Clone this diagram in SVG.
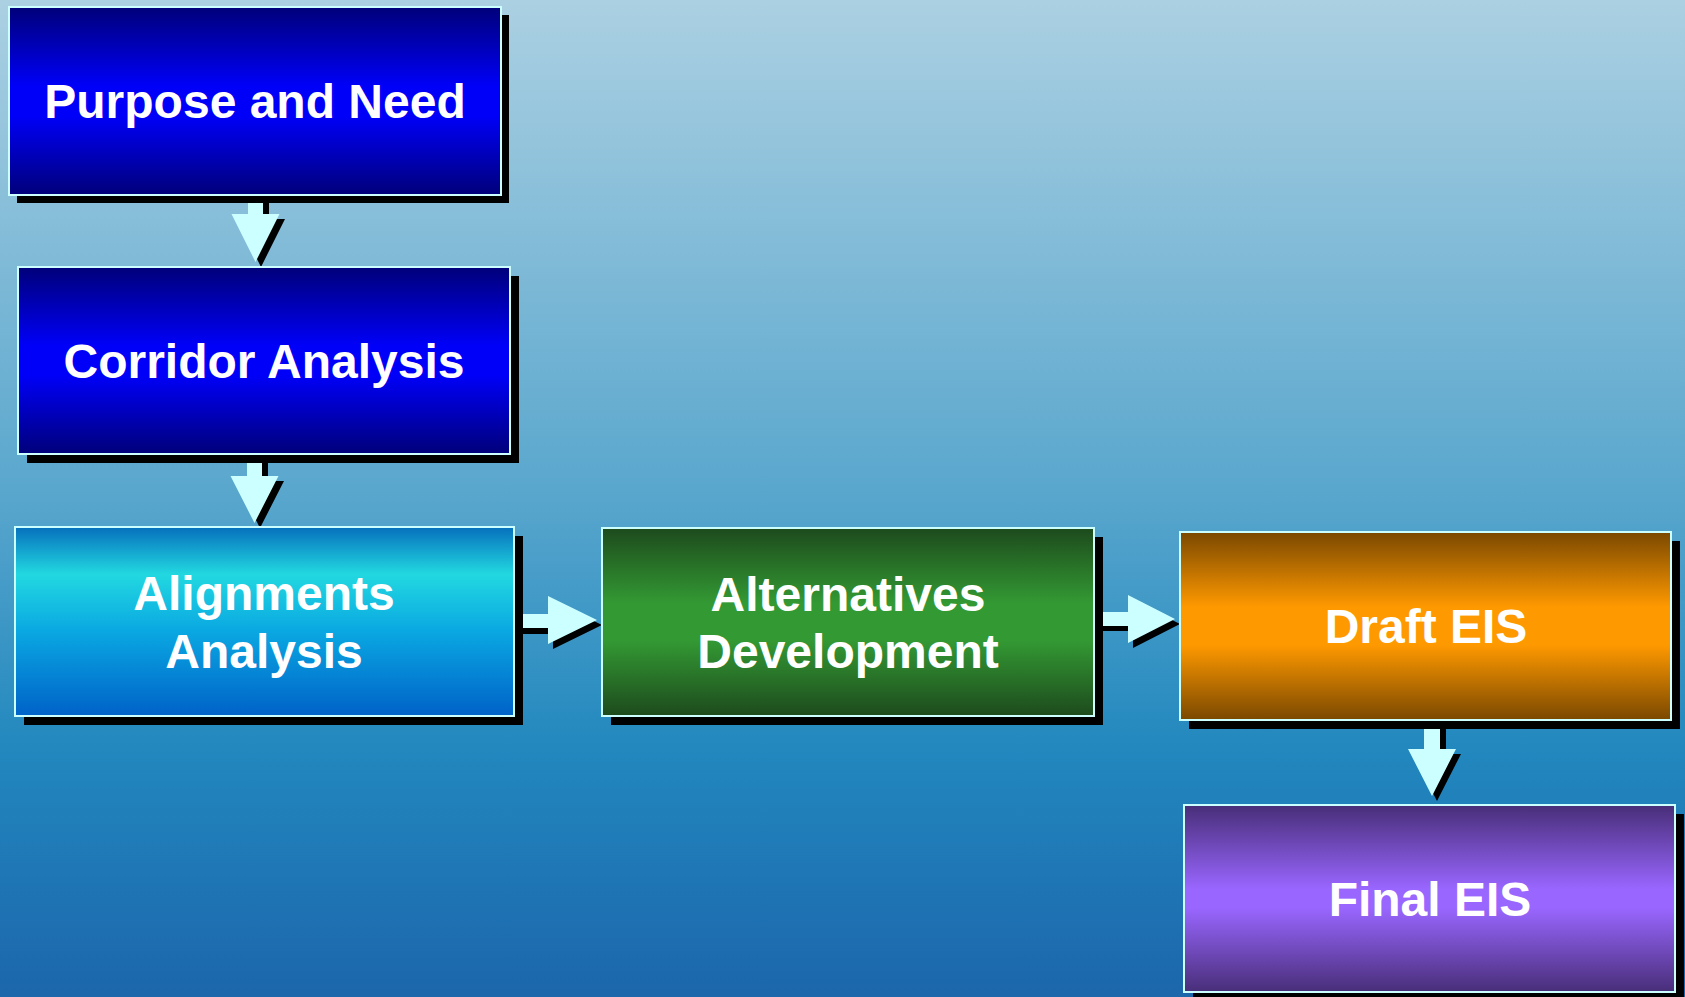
<svg xmlns="http://www.w3.org/2000/svg" width="1685" height="997" viewBox="0 0 1685 997">
<defs>
<linearGradient id="bg" x1="0" y1="0" x2="0" y2="1">
<stop offset="0" stop-color="#abd0e2"/>
<stop offset="0.5" stop-color="#58a6cd"/>
<stop offset="0.75" stop-color="#2288be"/>
<stop offset="1" stop-color="#1c66ac"/>
</linearGradient>
<linearGradient id="gBlue" x1="0" y1="0" x2="0" y2="1">
<stop offset="0" stop-color="#00007a"/>
<stop offset="0.42" stop-color="#0000f8"/>
<stop offset="0.58" stop-color="#0000f8"/>
<stop offset="1" stop-color="#00007a"/>
</linearGradient>
<linearGradient id="gCyan" x1="0" y1="0" x2="0" y2="1">
<stop offset="0" stop-color="#0670bd"/>
<stop offset="0.25" stop-color="#22d8e0"/>
<stop offset="0.55" stop-color="#0aa8e2"/>
<stop offset="1" stop-color="#0062c8"/>
</linearGradient>
<linearGradient id="gGreen" x1="0" y1="0" x2="0" y2="1">
<stop offset="0" stop-color="#1d4a1d"/>
<stop offset="0.4" stop-color="#339933"/>
<stop offset="0.6" stop-color="#339933"/>
<stop offset="1" stop-color="#1d4a1d"/>
</linearGradient>
<linearGradient id="gOrange" x1="0" y1="0" x2="0" y2="1">
<stop offset="0" stop-color="#7a4800"/>
<stop offset="0.4" stop-color="#ff9900"/>
<stop offset="0.6" stop-color="#ff9900"/>
<stop offset="1" stop-color="#7a4800"/>
</linearGradient>
<linearGradient id="gPurple" x1="0" y1="0" x2="0" y2="1">
<stop offset="0" stop-color="#482e78"/>
<stop offset="0.45" stop-color="#9966ff"/>
<stop offset="0.55" stop-color="#9966ff"/>
<stop offset="1" stop-color="#482e78"/>
</linearGradient>
<style>
.sh{fill:#000}
.bx{stroke:#ccffff;stroke-width:2}
.t{font-family:"Liberation Sans",Arial,sans-serif;font-weight:bold;font-size:48px;fill:#fff;text-anchor:middle}
.ar{fill:#ccffff}
.as{fill:#000}
</style>
</defs>
<rect x="0" y="0" width="1685" height="997" fill="url(#bg)"/>

<g id="connectors">
<polygon class="as" points="254,200 269,200 269,219 285,219 261,267 237,219 254,219"/>
<polygon class="ar" points="248,200 263,200 263,214 279.5,214 255.5,262 231.5,214 248,214"/>
<polygon class="as" points="253,460 268,460 268,481 284,481 260,528 236,481 253,481"/>
<polygon class="ar" points="247,460 262,460 262,476 278.5,476 254.5,523 230.5,476 247,476"/>
<polygon class="as" points="1430,724 1446,724 1446,754 1461,754 1437,801 1413,754 1430,754"/>
<polygon class="ar" points="1424,724 1440,724 1440,749 1456,749 1432,796 1408,749 1424,749"/>
<polygon class="as" points="518,620 553,620 553,601 602,625 553,649 553,634 518,634"/>
<polygon class="ar" points="518,614 548,614 548,596 597,620 548,644 548,628 518,628"/>
<polygon class="as" points="1098,617 1133,617 1133,600 1180,624 1133,648 1133,631 1098,631"/>
<polygon class="ar" points="1098,612 1128,612 1128,595 1175,619 1128,643 1128,626 1098,626"/>
</g>

<g id="purpose-and-need">
<rect class="sh" x="17" y="15" width="492" height="188"/>
<rect class="bx" x="9" y="7" width="492" height="188" fill="url(#gBlue)"/>
<text class="t" x="255" y="118">Purpose and Need</text>
</g>

<g id="corridor-analysis">
<rect class="sh" x="27" y="276" width="492" height="187"/>
<rect class="bx" x="18" y="267" width="492" height="187" fill="url(#gBlue)"/>
<text class="t" x="264" y="378">Corridor Analysis</text>
</g>

<g id="alignments-analysis">
<rect class="sh" x="24" y="536" width="499" height="189"/>
<rect class="bx" x="15" y="527" width="499" height="189" fill="url(#gCyan)"/>
<text class="t" x="264" y="610">Alignments</text>
<text class="t" x="264" y="668">Analysis</text>
</g>

<g id="alternatives-development">
<rect class="sh" x="611" y="537" width="492" height="188"/>
<rect class="bx" x="602" y="528" width="492" height="188" fill="url(#gGreen)"/>
<text class="t" x="848" y="611">Alternatives</text>
<text class="t" x="848" y="668">Development</text>
</g>

<g id="draft-eis">
<rect class="sh" x="1189" y="541" width="491" height="188"/>
<rect class="bx" x="1180" y="532" width="491" height="188" fill="url(#gOrange)"/>
<text class="t" x="1426" y="643">Draft EIS</text>
</g>

<g id="final-eis">
<rect class="sh" x="1193" y="814" width="491" height="187"/>
<rect class="bx" x="1184" y="805" width="491" height="187" fill="url(#gPurple)"/>
<text class="t" x="1430" y="916">Final EIS</text>
</g>
</svg>
